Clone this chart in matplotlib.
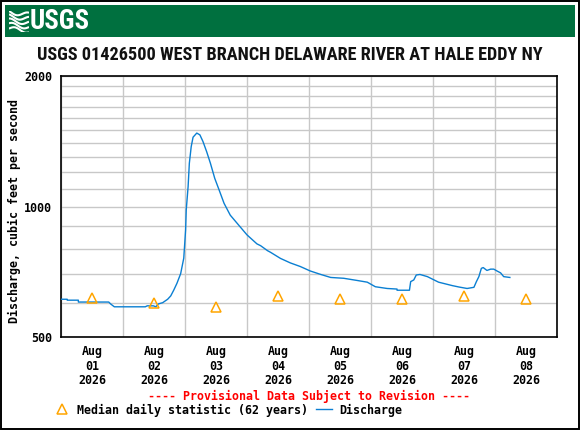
import numpy as np
import matplotlib
matplotlib.use("Agg")
import matplotlib.pyplot as plt
from matplotlib import font_manager as fm
from matplotlib.patches import Rectangle
from matplotlib.lines import Line2D

# ---------------- data ----------------
day_labels = ["Aug\n01\n2026", "Aug\n02\n2026", "Aug\n03\n2026", "Aug\n04\n2026",
              "Aug\n05\n2026", "Aug\n06\n2026", "Aug\n07\n2026", "Aug\n08\n2026"]
y_tick_values = [500, 1000, 2000]
y_minor_values = [600, 700, 800, 900, 1100, 1200, 1300, 1400, 1500, 1600, 1700, 1800, 1900]

# discharge (days since Aug 01 00:00, cfs)
q_days = [0.00, 0.10, 0.10, 0.28, 0.28, 0.77, 0.80, 0.86, 1.36, 1.39, 1.49, 1.53,
          1.57, 1.64, 1.72, 1.77, 1.82, 1.87, 1.93, 1.98, 2.01, 2.02, 2.05, 2.07,
          2.10, 2.13, 2.19, 2.24, 2.29, 2.35, 2.41, 2.48, 2.55, 2.63, 2.73, 2.84,
          3.00, 3.16, 3.22, 3.33, 3.38, 3.54, 3.70, 3.86, 4.02, 4.19, 4.35, 4.56,
          4.78, 4.94, 5.07, 5.26, 5.42, 5.42, 5.62, 5.64, 5.69, 5.73, 5.79, 5.91,
          5.99, 6.09, 6.20, 6.31, 6.42, 6.55, 6.66, 6.70, 6.74, 6.78, 6.81, 6.87,
          6.93, 6.98, 7.04, 7.09, 7.14, 7.24]
q_cfs = [611, 611, 608, 608, 602, 602, 596, 587, 587, 590, 590, 587,
         596, 600, 611, 622, 642, 665, 700, 760, 883, 982, 1111, 1258,
         1374, 1445, 1477, 1463, 1412, 1337, 1258, 1161, 1092, 1017, 955, 915,
         860, 820, 812, 791, 784, 759, 741, 727, 710, 697, 686, 683,
         675, 669, 653, 647, 645, 641, 641, 671, 677, 695, 697, 689,
         680, 669, 663, 657, 652, 647, 651, 671, 689, 720, 723, 712,
         717, 717, 709, 703, 689, 686]

# median daily statistic (plotted at noon)
median_days = [0.5, 1.5, 2.5, 3.5, 4.5, 5.5, 6.5, 7.5]
median_cfs = [614, 598, 586, 621, 611, 613, 621, 611]

# ---------------- styles ----------------
W, H = 580, 430
MONO = "DejaVu Sans Mono"
MSIZE = 8.4
green = "#00703F"
blue = "#0a7fd2"
orange = "#FFA500"


def pick_condensed():
    cands = ["Liberation Sans Narrow", "Arial Narrow", "Roboto Condensed",
             "Open Sans Condensed", "Noto Sans", "DejaVu Sans", "Open Sans", "Roboto"]
    for fam in cands:
        for stretch in ("condensed", "semi-condensed", "extra-condensed"):
            try:
                path = fm.findfont(fm.FontProperties(family=fam, weight="bold", stretch=stretch),
                                   fallback_to_default=False)
            except Exception:
                continue
            low = path.lower()
            if "narrow" in low or "condensed" in low:
                return fam, stretch
    return "Liberation Sans", "normal"


COND_FAM, COND_STRETCH = pick_condensed()

fig = plt.figure(figsize=(W / 100, H / 100), dpi=100)


def fx(px):
    return px / W


def fy(py):
    return 1 - py / H


# outer border
fig.add_artist(Rectangle((fx(0.5), fy(428.5)), fx(578), 428 / H, transform=fig.transFigure,
                         fill=False, edgecolor="black", linewidth=1.4))
# green banner
fig.add_artist(Rectangle((fx(5), fy(36.5)), fx(570), 31.5 / H, transform=fig.transFigure,
                         facecolor=green, edgecolor="none", zorder=0.5))

# logo icon (waves)
iax = fig.add_axes([fx(9), fy(31.5), fx(20), 20.5 / H])
iax.set_zorder(5)
iax.patch.set_visible(False)
iax.set_xlim(0, 1)
iax.set_ylim(0, 1)
iax.axis("off")
xx = np.linspace(0, 1, 60)
for k, off in enumerate([0.08, 0.28, 0.48, 0.68, 0.88]):
    yy = off + 0.10 * np.sin(2 * np.pi * (xx * 0.9 + 0.1 * k)) - 0.12 * (xx - 0.5)
    iax.plot(xx, yy, color="white", lw=1.5, solid_capstyle="butt")

logo = fig.text(fx(30), fy(21.5), "USGS", color="white", fontsize=20.5, weight="bold",
                family=COND_FAM, stretch=COND_STRETCH, ha="left", va="center", zorder=6)

# title
title = fig.text(fx(290), fy(55), "USGS 01426500 WEST BRANCH DELAWARE RIVER AT HALE EDDY NY",
                 fontsize=13.4, weight="bold", family=COND_FAM, stretch=COND_STRETCH,
                 ha="center", va="center", color="#111111")

# fit widths of condensed-style texts to the reference
renderer = fig.canvas.get_renderer()
for t, target in ((title, 508.0), (logo, 60.0)):
    w = t.get_window_extent(renderer).width
    if w > 0:
        t.set_fontsize(t.get_fontsize() * target / w)

# main axes
ax = fig.add_axes([fx(61), fy(337), fx(557 - 61), (337 - 76) / H])
ax.set_yscale("log")
ax.set_xlim(0, 8)
ax.set_ylim(500, 2000)

ax.plot(q_days, q_cfs, color=blue, lw=1.0, zorder=3)
ax.plot(median_days, median_cfs, linestyle="none", marker="^", markersize=6.5,
        markerfacecolor="none", markeredgecolor=orange, markeredgewidth=1.1, zorder=4)

ax.set_yticks(y_tick_values)
ax.set_yticklabels([str(v) for v in y_tick_values], family=MONO, weight="bold", size=MSIZE)
ax.set_yticks(y_minor_values, minor=True)
ax.yaxis.set_minor_formatter(matplotlib.ticker.NullFormatter())

ax.set_xticks(range(0, 9))
ax.set_xticklabels([""] * 9)
ax.set_xticks(median_days, minor=True)
ax.set_xticklabels(day_labels, minor=True, family=MONO, weight="bold", size=MSIZE,
                   linespacing=1.12)

ax.tick_params(axis="both", which="both", length=0)
ax.tick_params(axis="y", which="major", pad=6.5)
ax.tick_params(axis="x", which="minor", pad=6)

ax.grid(True, which="major", color="#c8c8c8", lw=1.0, zorder=0)
ax.grid(True, which="minor", axis="y", color="#c8c8c8", lw=1.0, zorder=0)
ax.set_axisbelow(True)
for s in ax.spines.values():
    s.set_color("black")
    s.set_linewidth(1.2)

# y label
fig.text(fx(14), fy(211), "Discharge, cubic feet per second", rotation=90,
         ha="center", va="center", family=MONO, weight="bold", size=MSIZE)

# provisional note
fig.text(fx(309), fy(396), "---- Provisional Data Subject to Revision ----", color="red",
         ha="center", va="center", family=MONO, weight="bold", size=MSIZE)

# legend
fig.add_artist(Line2D([fx(62)], [fy(409)], transform=fig.transFigure, linestyle="none",
                      marker="^", markersize=6.5, markerfacecolor="none",
                      markeredgecolor=orange, markeredgewidth=1.1))
fig.text(fx(76.5), fy(410), "Median daily statistic (62 years)", ha="left", va="center",
         family=MONO, weight="bold", size=MSIZE)
fig.add_artist(Line2D([fx(315.5), fx(332)], [fy(409), fy(409)], transform=fig.transFigure,
                      color=blue, lw=1.0))
fig.text(fx(339), fy(410), "Discharge", ha="left", va="center",
         family=MONO, weight="bold", size=MSIZE)

fig.savefig("out.png", dpi=100)
